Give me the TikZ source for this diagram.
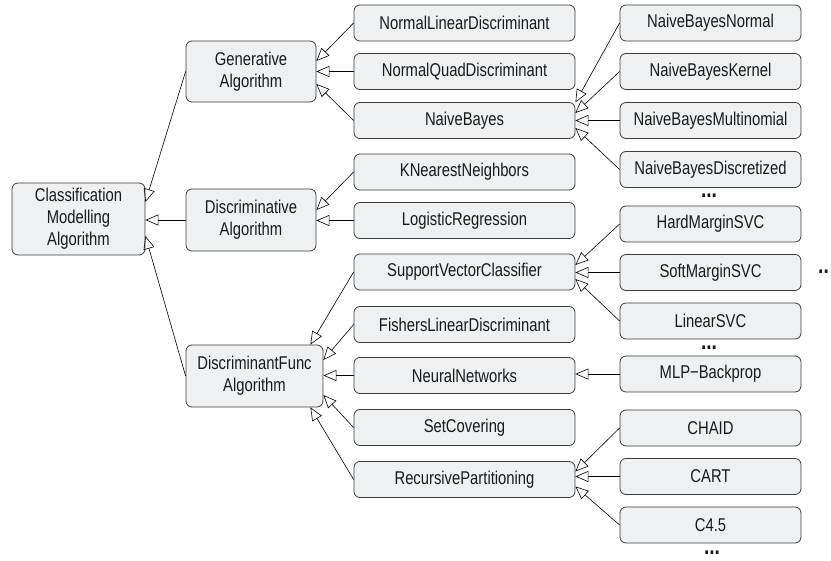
\documentclass[tikz,border=0pt]{standalone}
\usepackage{fontspec}
\setmainfont{Liberation Sans}[FakeStretch=0.8]
\usetikzlibrary{arrows.meta}
\definecolor{boxfill}{HTML}{EEF0F2}
\definecolor{boxline}{HTML}{3C3C3C}
\definecolor{inkcol}{HTML}{1A1A1A}
\begin{document}
\begin{tikzpicture}[x=1pt,y=-1pt,
  every node/.style={font=\fontsize{18.5}{22}\selectfont, text=inkcol},
  cls/.style={draw=boxline, fill=boxfill, line width=0.8pt, rounded corners=6pt,
              align=center, inner sep=0pt},
  midbox/.style={cls, minimum width=221pt, minimum height=36pt},
  leafbox/.style={cls, minimum width=181pt, minimum height=36pt},
  isa/.style={draw=black, line width=0.6pt,
              -{Triangle[open, length=13pt, width=11pt, line width=0.6pt]}},
  more/.style={font=\fontsize{24}{24}\selectfont\bfseries, inner sep=0pt}
]
\useasboundingbox (0,0) rectangle (831,561);

% root and first level
\node[cls, minimum width=133pt, minimum height=72pt] (root) at (78.5,219)
  {Classification\\Modelling\\Algorithm};
\node[cls, minimum width=130pt, minimum height=61pt] (gen) at (251,71.5)
  {Generative\\Algorithm};
\node[cls, minimum width=130pt, minimum height=62pt] (disc) at (251,220)
  {Discriminative\\Algorithm};
\node[cls, minimum width=137pt, minimum height=62pt] (dfunc) at (254.5,376)
  {DiscriminantFunc\\Algorithm};

% second level
\node[midbox] (nld)  at (464.5,23)    {NormalLinearDiscriminant};
\node[midbox] (nqd)  at (464.5,71.5)  {NormalQuadDiscriminant};
\node[midbox] (nb)   at (464.5,120.5) {NaiveBayes};
\node[midbox] (knn)  at (464.5,172)   {KNearestNeighbors};
\node[midbox] (lr)   at (464.5,220.5) {LogisticRegression};
\node[midbox] (svc)  at (464.5,272)   {SupportVectorClassifier};
\node[midbox] (flda) at (464.5,324.5) {FishersLinearDiscriminant};
\node[midbox] (nn)   at (464.5,375.5) {NeuralNetworks};
\node[midbox] (setc) at (464.5,427.5) {SetCovering};
\node[midbox] (rp)   at (464.5,479.5) {RecursivePartitioning};

% third level
\node[leafbox] (nbn)   at (710.5,23)    {NaiveBayesNormal};
\node[leafbox] (nbk)   at (710.5,71.5)  {NaiveBayesKernel};
\node[leafbox] (nbm)   at (710.5,120.5) {NaiveBayesMultinomial};
\node[leafbox] (nbd)   at (710.5,169.5) {NaiveBayesDiscretized};
\node[leafbox] (hm)    at (710.5,224)   {HardMarginSVC};
\node[leafbox] (sm)    at (710.5,272.5) {SoftMarginSVC};
\node[leafbox] (lsvc)  at (710.5,321)   {LinearSVC};
\node[leafbox] (mlp)   at (710.5,374)   {MLP{\char"2212}Backprop};
\node[leafbox] (chaid) at (710.5,428)   {CHAID};
\node[leafbox] (cart)  at (710.5,476.5) {CART};
\node[leafbox] (c45)   at (710.5,525)   {C4.5};

% continuation marks
\node[more] (moreA) at (709,196)   {...};
\node[more] (moreB) at (709,347.5) {...};
\node[more] (moreC) at (712,553)   {...};
\node[more, anchor=west] (moreD) at (818,272) {..};

% generalisation links into the root
\draw[isa] (gen.west)   -- ([yshift=17pt]root.east);
\draw[isa] (disc.west)  -- (disc.west -| root.east);
\draw[isa] (dfunc.west) -- ([yshift=-17pt]root.east);

% links into Generative / Discriminative
\draw[isa] (nld.west) -- ([yshift=10.5pt]gen.east);
\draw[isa] (nqd.west) -- (nqd.west -| gen.east);
\draw[isa] (nb.west)  -- ([yshift=-12.5pt]gen.east);
\draw[isa] (knn.west) -- ([yshift=10pt]disc.east);
\draw[isa] (lr.west)  -- (lr.west -| disc.east);

% links into DiscriminantFunc
\draw[isa] (svc.west)  -- ([xshift=-13pt]dfunc.north east);
\draw[isa] (flda.west) -- ([yshift=16pt]dfunc.east);
\draw[isa] (nn.west)   -- (nn.west -| dfunc.east);
\draw[isa] (setc.west) -- ([yshift=-19pt]dfunc.east);
\draw[isa] (rp.west)   -- ([xshift=-13pt]dfunc.south east);

% links into NaiveBayes
\draw[isa] (nbn.west) -- ([yshift=18pt]nb.east);
\draw[isa] (nbk.west) -- ([yshift=7.5pt]nb.east);
\draw[isa] (nbm.west) -- (nbm.west -| nb.east);
\draw[isa] (nbd.west) -- ([yshift=-7.5pt]nb.east);

% links into SupportVectorClassifier
\draw[isa] (hm.west)   -- ([yshift=7pt]svc.east);
\draw[isa] (sm.west)   -- (sm.west -| svc.east);
\draw[isa] (lsvc.west) -- ([yshift=-7pt]svc.east);

% link into NeuralNetworks
\draw[isa] (mlp.west) -- (mlp.west -| nn.east);

% links into RecursivePartitioning
\draw[isa] (chaid.west) -- ([yshift=8pt]rp.east);
\draw[isa] (cart.west)  -- (cart.west -| rp.east);
\draw[isa] (c45.west)   -- ([yshift=-7pt]rp.east);
\end{tikzpicture}
\end{document}
